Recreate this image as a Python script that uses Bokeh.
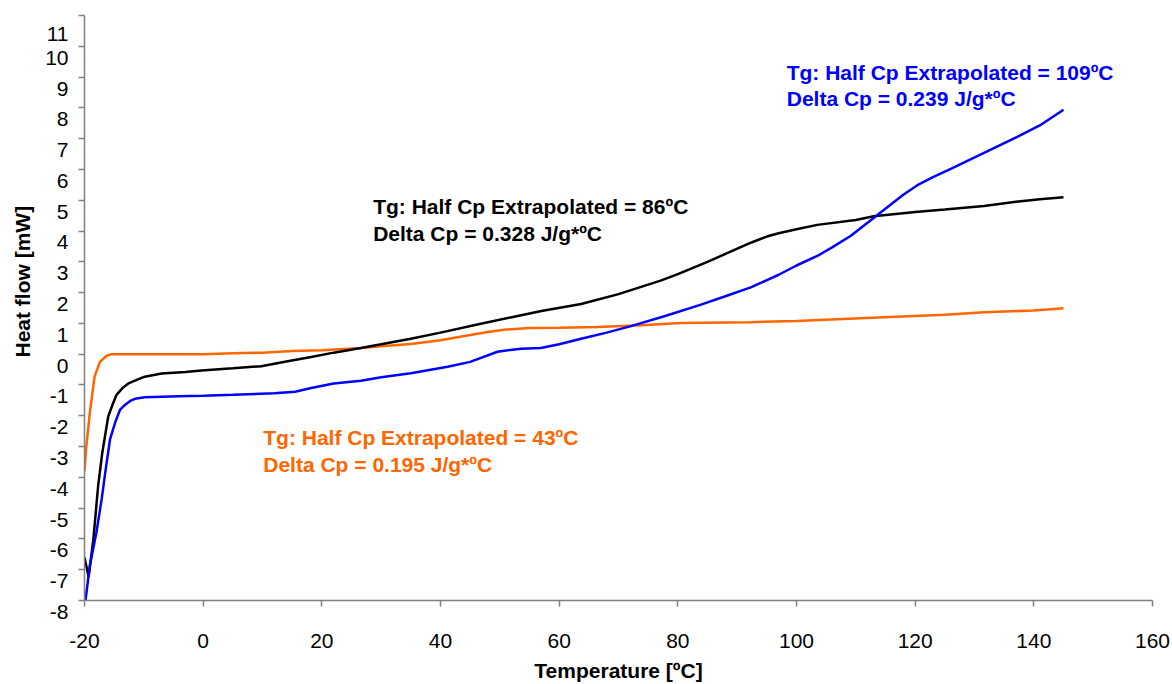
from bokeh.plotting import figure
from bokeh.models import Range1d, FixedTicker, Label, Title
from bokeh.embed import file_html
from bokeh.resources import INLINE

# ---- data ----
temp_black = [-20, -19.3, -18.5, -17.7, -17, -16, -15.2, -14.6, -13.6, -12.6, -11, -9.85, -7, -3, -0.3,
              5, 9.8, 14, 18.2, 22, 26.6, 30, 35, 40, 46.8, 52, 57, 63.7, 70, 77.1, 80, 85, 92.3, 95, 97,
              100, 103.5, 110, 113, 120, 125, 131.6, 137, 141, 145]
heat_black = [-6.6, -7.23, -6.0, -4.28, -3.2, -2.02, -1.6, -1.32, -1.1, -0.95, -0.82, -0.73, -0.63, -0.58, -0.53,
              -0.46, -0.39, -0.24, -0.09, 0.05, 0.2, 0.32, 0.5, 0.7, 0.99, 1.2, 1.4, 1.63, 1.95, 2.39, 2.6, 3.0, 3.62, 3.82, 3.93,
              4.06, 4.2, 4.36, 4.48, 4.62, 4.7, 4.81, 4.95, 5.03, 5.1]

temp_blue = [-20, -19.1, -18, -17.1, -16.4, -15.7, -14.8, -14.0, -13.2, -12.3, -11.5, -9.85, -4.2, 0, 5, 12,
             15.5, 18.2, 22, 26.6, 30, 35, 41.2, 45, 49.6, 53.6, 56.9, 60, 63.7, 68, 72.1, 78, 83.9, 88, 92.3,
             97, 100, 103.5, 106, 109.1, 113, 116, 118, 120.3, 123, 126, 131.6, 137.2, 141, 145]
heat_blue = [-8.26, -6.86, -5.8, -4.7, -3.7, -2.77, -2.2, -1.8, -1.65, -1.52, -1.45, -1.4, -1.37, -1.35, -1.32, -1.27,
             -1.22, -1.1, -0.95, -0.86, -0.75, -0.62, -0.41, -0.25, 0.08, 0.18, 0.2, 0.32, 0.5, 0.7, 0.91, 1.25, 1.61, 1.88, 2.17,
             2.58, 2.88, 3.19, 3.47, 3.84, 4.42, 4.88, 5.18, 5.48, 5.75, 6.02, 6.54, 7.06, 7.43, 7.94]

temp_orange = [-20, -19.7, -19.1, -18.3, -17.4, -16.3, -15.5, 0, 5, 10, 15, 20, 26.6, 30, 35, 40, 45, 48, 51,
               55, 60, 66.5, 73.8, 80.5, 92.3, 100, 114.7, 125, 131.6, 140, 145]
heat_orange = [-3.8, -3.0, -1.9, -0.73, -0.25, -0.06, 0.0, 0.0, 0.03, 0.05, 0.1, 0.13, 0.2, 0.26, 0.33, 0.45, 0.62, 0.72, 0.8,
               0.85, 0.86, 0.88, 0.94, 1.01, 1.04, 1.08, 1.2, 1.28, 1.36, 1.42, 1.49]

x_ticks = [-20, 0, 20, 40, 60, 80, 100, 120, 140, 160]
y_ticks = list(range(-8, 12))

FONT = "Liberation Sans"
AXIS_GRAY = "#808080"
BLUE = "#0000FF"
ORANGE = "#FF6600"
BLACK = "#000000"
FS = "21px"

p = figure(width=1172, height=684, output_backend="svg", toolbar_location=None,
           x_range=Range1d(-20, 160), y_range=Range1d(-8, 11),
           min_border_left=83, min_border_right=20, min_border_top=15, min_border_bottom=82)
p.outline_line_color = None
p.grid.visible = False
p.background_fill_color = "white"
p.border_fill_color = "white"

p.line(temp_orange, heat_orange, line_color=ORANGE, line_width=2.5)
p.line(temp_black, heat_black, line_color=BLACK, line_width=2.5)
p.line(temp_blue, heat_blue, line_color=BLUE, line_width=2.5)

for ax in (p.xaxis[0], p.yaxis[0]):
    ax.axis_line_color = AXIS_GRAY
    ax.axis_line_width = 1.5
    ax.major_tick_line_color = AXIS_GRAY
    ax.major_tick_line_width = 1.5
    ax.major_tick_in = 0
    ax.major_tick_out = 6
    ax.minor_tick_line_color = None
    ax.major_label_text_font = FONT
    ax.major_label_text_font_size = FS
    ax.major_label_text_color = "#000000"

p.xaxis.ticker = FixedTicker(ticks=x_ticks)
p.yaxis.ticker = FixedTicker(ticks=y_ticks)
p.xaxis.major_label_standoff = 27
p.xaxis.major_label_overrides = {t: str(t) for t in x_ticks}
# leading empty line pushes each y label a little below its tick, as in the reference
p.yaxis.major_label_overrides = {t: "\n" + str(t) for t in y_ticks}
p.yaxis.major_label_text_line_height = 0.95
p.yaxis.major_label_standoff = 10

p.xaxis.axis_label = "Temperature [ºC]"
p.xaxis.axis_label_text_font = FONT
p.xaxis.axis_label_text_font_style = "bold"
p.xaxis.axis_label_text_font_size = FS
p.xaxis.axis_label_standoff = 8
p.xaxis.axis_label_text_color = "#000000"

# y axis title as a side title, so it can sit a little above the frame centre
p.add_layout(Title(text="Heat flow [mW]", align="left", offset=243, standoff=17, text_font=FONT,
                   text_font_style="bold", text_font_size=FS, text_color="#000000"), "left")

annotations = [
    (98.35, 9.15, "Tg: Half Cp Extrapolated = 109ºC", BLUE),
    (98.35, 8.31, "Delta Cp = 0.239 J/g*ºC", BLUE),
    (28.65, 4.81, "Tg: Half Cp Extrapolated = 86ºC", BLACK),
    (28.65, 3.93, "Delta Cp = 0.328 J/g*ºC", BLACK),
    (10.13, -2.72, "Tg: Half Cp Extrapolated = 43ºC", ORANGE),
    (10.13, -3.59, "Delta Cp = 0.195 J/g*ºC", ORANGE),
]
for ax_, ay_, txt, col in annotations:
    p.add_layout(Label(x=ax_, y=ay_, text=txt, text_align="left", text_baseline="middle",
                       text_font=FONT, text_font_style="bold", text_font_size=FS,
                       text_color=col))

open("out.html", "w").write(file_html(p, INLINE))
